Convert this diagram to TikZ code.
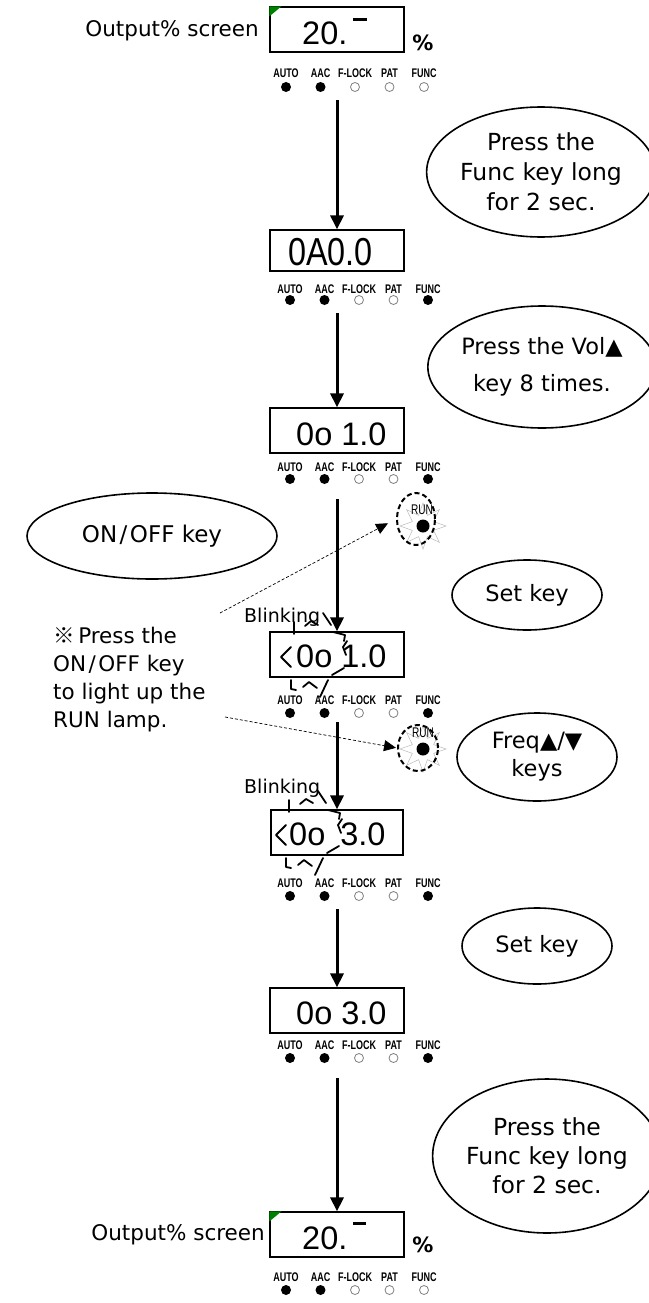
\documentclass[tikz,border=0pt]{standalone}
\usepackage{fontspec}
\usepackage{graphicx}
\setmainfont{DejaVu Sans}
\newfontfamily\digfont{Liberation Sans}
\newfontfamily\digcond{Liberation Sans}[FakeStretch=0.83]
\newfontfamily\ledfont{Liberation Sans}[FakeStretch=0.72]
\newfontfamily\cjkfont{Noto Sans CJK JP}
\usetikzlibrary{arrows.meta,shapes.geometric}

\newcommand\ledrow[5]{%
  \foreach \lab/\i/\st in {AUTO/0/ledon, AAC/1/ledon, F-LOCK/2/ledoff, PAT/3/ledoff, FUNC/4/#5}{%
    \node[ledlabel] (#1l\i) at ({#2+34.5*\i}, #3) {\lab};
    \node[\st] (#1d\i) at ({#2+34.5*\i}, #4) {};
  }}

\newcommand\blinkmarks[2]{%
  \begin{scope}[shift={(#1,#2)}, blinkmark]
    \draw (-24,-7) -- (-34,3) -- (-24,13);
    \draw (-21,-32) -- (-21,-20);
    \draw (-10,-28) -- (-4,-33) -- (3,-29);
    \draw (8,-41) -- (16,-29);
    \draw (18,-22) -- (30,-19) -- (29,-13);
    \draw (32,-13) -- (28,-7) -- (31,1);
    \draw (17,21) -- (29,14);
    \draw (-24,26) -- (-24,35) -- (-19,36);
    \draw (-12,33) -- (-6,28) -- (2,34);
    \draw (5,43) -- (13,26);
  \end{scope}}

\begin{document}
\begin{tikzpicture}[x=1pt, y=-1pt,
  dbox/.style={draw, line width=1.2pt, inner sep=0, minimum width=134pt, minimum height=45pt},
  digit/.style={inner sep=0, font=\digfont\fontsize{32.5}{32}\selectfont},
  ledlabel/.style={inner sep=0, font=\ledfont\bfseries\fontsize{12.5}{12}\selectfont},
  ledon/.style={circle, fill=black, minimum size=10pt, inner sep=0},
  ledoff/.style={circle, draw=gray, line width=0.8pt, fill=white, minimum size=9pt, inner sep=0},
  flow/.style={line width=3pt, -{Triangle[width=13pt,length=14pt]}},
  hint/.style={line width=0.7pt, dash pattern=on 3pt off 2pt, -{Triangle[width=11pt,length=12pt]}},
  oval/.style={ellipse, draw, line width=1.6pt, inner sep=0, align=center, font=\fontsize{22.5}{28}\selectfont},
  label/.style={inner sep=0, font=\fontsize{21.5}{28}\selectfont},
  blinktxt/.style={inner sep=0, font=\fontsize{19}{22}\selectfont},
  blinkmark/.style={line width=1.8pt, line cap=round, line join=round},
  runring/.style={ellipse, draw, line width=2pt, dash pattern=on 5pt off 3pt, inner sep=0},
  burst/.style={star, star points=8, star point ratio=2, draw=gray!55, line width=0.5pt, inner sep=0, minimum size=46pt},
  rundot/.style={circle, fill=black, minimum size=13pt, inner sep=0},
  runtxt/.style={inner sep=0, font=\ledfont\fontsize{14}{14}\selectfont},
  pct/.style={inner sep=0, font=\bfseries\fontsize{21}{21}\selectfont}
]
\useasboundingbox (0,0) rectangle (648,1303);

% ---------- display boxes ----------
\node[dbox] (box1) at (337,29.5) {};
\node[dbox, minimum height=41pt] (box2) at (337,250.5) {};
\node[dbox] (box3) at (337,430.5) {};
\node[dbox] (box4) at (337,654.5) {};
\node[dbox, minimum width=132pt] (box5) at (337,832.5) {};
\node[dbox] (box6) at (337,1010.5) {};
\node[dbox] (box7) at (337,1234.5) {};

\fill[green!50!black] (box1.north west) -- ++(12,0) -- ++(-12,10) -- cycle;
\fill[green!50!black] (box7.north west) -- ++(12,0) -- ++(-12,10) -- cycle;

\node[digit, anchor=base west] (t1) at (302,45) {20.};
\draw[line width=3pt] (353,20) -- (367,20);
\node[digit, anchor=base west, font=\digcond\fontsize{39}{39}\selectfont] (t2) at (288,265) {0A0.0};
\node[digit, anchor=base west] (t3) at (296,445) {0o 1.0};
\node[digit, anchor=base west] (t4) at (296,667) {0o 1.0};
\node[digit, anchor=base west] (t5) at (289,845) {0o\hspace{6pt} 3.0};
\node[digit, anchor=base west] (t6) at (296,1024) {0o 3.0};
\node[digit, anchor=base west] (t7) at (302,1249) {20.};
\draw[line width=3pt] (353,1223) -- (366,1223);

\node[pct] (p1) at (423,43) {\%};
\node[pct] (p7) at (423,1245) {\%};

\node[label, anchor=base east] (o1) at (259,37) {Output\% screen};
\node[label, anchor=base east] (o7) at (265,1240) {Output\% screen};

% ---------- LED rows ----------
\ledrow{a}{286}{73}{87}{ledoff}
\ledrow{b}{290}{289}{300}{ledon}
\ledrow{c}{290}{467}{479}{ledon}
\ledrow{d}{290}{700}{713}{ledon}
\ledrow{e}{290}{883}{896}{ledon}
\ledrow{f}{290}{1045}{1058}{ledon}
\ledrow{g}{286}{1277}{1290}{ledoff}

% ---------- flow arrows ----------
\coordinate (s1) at (337,100);
\coordinate (s2) at (337,313);
\coordinate (s3) at (337,499);
\coordinate (s4) at (337,722);
\coordinate (s5) at (337,909);
\coordinate (s6) at (337,1078);
\draw[flow] (s1) -- (box2.north);
\draw[flow] (s2) -- (box3.north);
\draw[flow] (s3) -- (box4.north);
\draw[flow] (s4) -- (box5.north);
\draw[flow] (s5) -- (box6.north);
\draw[flow] (s6) -- (box7.north);

% ---------- key ellipses ----------
\node[oval, minimum width=200pt, minimum height=130pt, font=\fontsize{23.5}{30}\selectfont] (e1) at (541,172) {Press the\\Func key long\\for 2 sec.};
\node[oval, minimum width=210pt, minimum height=122pt] (e2) at (542,367) {Press the Vol▲\\[9pt]key 8 times.};
\node[oval, minimum width=250pt, minimum height=86pt, font=\fontsize{23}{28}\selectfont] (eon) at (152,536) {ON\kern2.5pt/\kern2.5pt OFF key};
\node[oval, minimum width=150pt, minimum height=70pt] (e3) at (527,595) {Set key};
\node[oval, minimum width=160pt, minimum height=88pt] (e4) at (537,757) {Freq▲/▼\\keys};
\node[oval, minimum width=150pt, minimum height=76pt] (e5) at (537,946) {Set key};
\node[oval, minimum width=200pt, minimum height=154pt, font=\fontsize{23.5}{29}\selectfont] (e6) at (547,1156) {Press the\\Func key long\\for 2 sec.};

% ---------- note ----------
\node[label, anchor=west, align=left] (note) at (53,680) {{\cjkfont ※}\,Press the\\ON\kern2.5pt/\kern2.5pt OFF key\\to light up the\\RUN lamp.};

% ---------- blinking ----------
\node[blinktxt, anchor=west] (bl1) at (244,617) {Blinking};
\node[blinktxt, anchor=west] (bl2) at (244,788) {Blinking};
\blinkmarks{315}{654}
\blinkmarks{310}{832}

% ---------- RUN lamps ----------
\node[burst] (st1) at (423,526) {};
\node[runring, minimum width=38pt, minimum height=52pt] (r1) at (416,519) {};
\node[rundot] (rd1) at (423,526) {};
\node[runtxt] (rt1) at (422,510) {RUN};

\node[burst] (st2) at (423,749) {};
\node[runring, minimum width=40pt, minimum height=46pt] (r2) at (418,748) {};
\node[rundot] (rd2) at (423,749) {};
\node[runtxt] (rt2) at (423,733) {RUN};

\coordinate (h1) at (220,613);
\coordinate (h2) at (225,717);
\draw[hint, shorten >=9pt] (h1) -- (r1.west);
\draw[hint, shorten >=1pt] (h2) -- (r2.west);
\end{tikzpicture}
\end{document}
